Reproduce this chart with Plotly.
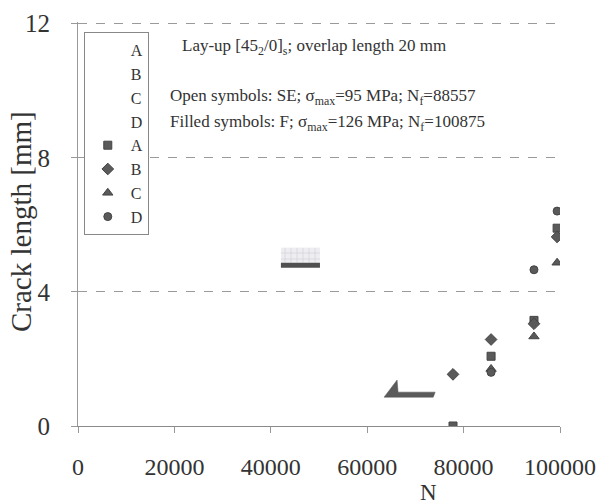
import plotly.graph_objects as go

# ---- data ----
labels = ["A", "B", "C", "D"]
filled_symbols = ["square", "diamond", "triangle-up", "circle"]

# filled symbols (F; sigma_max = 126 MPa)
fA_x = [77800, 85700, 94600, 99400]
fA_y = [0.0, 2.08, 3.15, 5.90]
fB_x = [77800, 85700, 94600, 99400]
fB_y = [1.54, 2.58, 3.05, 5.64]
fC_x = [85700, 94600, 99400]
fC_y = [1.70, 2.67, 4.87]
fD_x = [85700, 94600, 99400]
fD_y = [1.60, 4.66, 6.41]

# open symbols (SE; sigma_max = 95 MPa) - not legible in the scan
open_x = [None]
open_y = [None]

# scan smudges visible in the plot area
hatch_x = [42100, 50200, 50200, 42100, 42100]
hatch_y = [4.87, 4.87, 5.32, 5.32, 4.87]
bar_x = [42100, 50200, 50200, 42100, 42100]
bar_y = [4.72, 4.72, 4.87, 4.87, 4.72]
wedge_x = [63500, 66200, 66400, 74100, 73700, 63500]
wedge_y = [0.86, 1.37, 1.01, 1.01, 0.86, 0.86]

x_ticks = [0, 20000, 40000, 60000, 80000, 100000]
y_ticks = [0, 4, 8, 12]

SERIF = "Liberation Serif, Times New Roman, serif"
INK = "#333333"
MARK = "#5a5a5a"

fig = go.Figure()

for lab in labels:
    fig.add_trace(go.Scatter(x=open_x, y=open_y, mode="markers", name=lab,
                             marker=dict(color="rgba(0,0,0,0)", size=8),
                             showlegend=True))

fill_data = [(fA_x, fA_y), (fB_x, fB_y), (fC_x, fC_y), (fD_x, fD_y)]
sizes = [8, 9, 9, 8]
for lab, sym, (xs, ys), sz in zip(labels, filled_symbols, fill_data, sizes):
    fig.add_trace(go.Scatter(x=xs, y=ys, mode="markers", name=lab,
                             marker=dict(symbol=sym, size=sz, color=MARK,
                                         line=dict(color="#444444", width=1))))

fig.add_trace(go.Scatter(x=hatch_x, y=hatch_y, mode="lines", fill="toself",
                         fillcolor="#eeeef2", line=dict(width=0),
                         fillpattern=dict(shape="+", fgcolor="#b0b0b8", size=6, solidity=0.2),
                         showlegend=False, hoverinfo="skip"))
fig.add_trace(go.Scatter(x=bar_x, y=bar_y, mode="lines", fill="toself",
                         fillcolor="#505050", line=dict(width=0),
                         showlegend=False, hoverinfo="skip"))
fig.add_trace(go.Scatter(x=wedge_x, y=wedge_y, mode="lines", fill="toself",
                         fillcolor="#5a5a5a", line=dict(width=0.5, color="#555555"),
                         showlegend=False, hoverinfo="skip"))

fig.update_layout(
    width=600, height=504,
    margin=dict(l=78, r=40, t=22, b=78),
    paper_bgcolor="white", plot_bgcolor="white",
    font=dict(family=SERIF, color=INK),
    showlegend=True,
    legend=dict(x=0.012, y=0.975, xanchor="left", yanchor="top",
                bordercolor="#888888", borderwidth=1, bgcolor="white",
                font=dict(family=SERIF, size=16, color=INK),
                itemwidth=36, tracegroupgap=0),
    xaxis=dict(range=[0, 100000], tickvals=x_ticks,
               ticktext=[str(v) for v in x_ticks],
               showgrid=False, zeroline=False, automargin=False,
               showline=True, linecolor="#8a8a8a", linewidth=1,
               ticks="outside", ticklen=6, tickcolor="#999999",
               tickfont=dict(family=SERIF, size=24, color=INK),
               ticklabelstandoff=13),
    yaxis=dict(range=[0, 12.05], tickvals=y_ticks, automargin=False,
               showgrid=True, gridcolor="#9a9a9a", griddash="dash", gridwidth=1,
               zeroline=False,
               showline=True, linecolor="#9a9a9a", linewidth=1,
               ticks="outside", ticklen=6, tickcolor="#999999",
               tickfont=dict(family=SERIF, size=25, color=INK),
               ticklabelstandoff=16),
)

annos = [
    ("Lay-up [45<sub>2</sub>/0]<sub>s</sub>; overlap length 20 mm", 180, 47),
    ("Open symbols: SE; σ<sub>max</sub>=95 MPa; N<sub>f</sub>=88557", 168, 97),
    ("Filled symbols: F; σ<sub>max</sub>=126 MPa; N<sub>f</sub>=100875", 168, 123),
]
for txt, px, py in annos:
    fig.add_annotation(text=txt, xref="paper", yref="paper",
                       x=(px - 78) / 482, y=(426 - py) / 404,
                       xanchor="left", yanchor="middle", showarrow=False,
                       font=dict(family=SERIF, size=17, color=INK))

# y-axis title
fig.add_annotation(text="Crack length [mm]", xref="paper", yref="paper",
                   x=(21 - 78) / 482, y=(426 - 222) / 404, textangle=-90,
                   xanchor="center", yanchor="middle", showarrow=False,
                   font=dict(family=SERIF, size=29, color=INK))

# x-axis title
fig.add_annotation(text="N", xref="paper", yref="paper",
                   x=(428 - 78) / 482, y=(426 - 478) / 404,
                   xanchor="center", yanchor="top", showarrow=False,
                   font=dict(family=SERIF, size=23, color=INK))

fig.write_html("out.html")
